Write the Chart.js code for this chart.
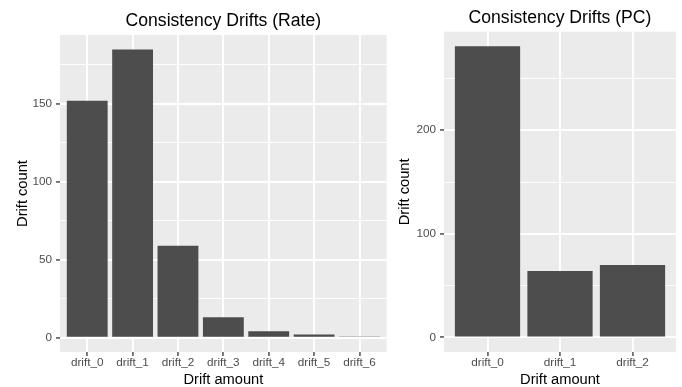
<!DOCTYPE html>
<html>
<head>
<meta charset="utf-8">
<script src="https://cdn.jsdelivr.net/npm/chart.js@4"></script>
<style>
  html, body { margin: 0; padding: 0; background: #ffffff; }
  body { width: 682px; height: 387px; position: relative; overflow: hidden; }
  canvas { position: absolute; top: 0; }
</style>
</head>
<body>
<canvas id="left" width="390" height="387" style="left:0px;width:390px;height:387px"></canvas>
<canvas id="right" width="292" height="387" style="left:390px;width:292px;height:387px"></canvas>
<script>
// ---- data ----
const rateCategories = ['drift_0', 'drift_1', 'drift_2', 'drift_3', 'drift_4', 'drift_5', 'drift_6'];
const rateCounts = [152, 185, 59, 13, 4, 2, 0.3];
const rateMajorTicks = [0, 50, 100, 150];
const rateMinorTicks = [25, 75, 125, 175];

const pcCategories = ['drift_0', 'drift_1', 'drift_2'];
const pcCounts = [281, 64, 70];
const pcMajorTicks = [0, 100, 200];
const pcMinorTicks = [50, 150, 250];

const rateTitle = 'Consistency Drifts (Rate)';
const pcTitle = 'Consistency Drifts (PC)';
const xTitle = 'Drift amount';
const yTitle = 'Drift count';

// ---- style ----
const FONT = "'Liberation Sans', Arial, Helvetica, sans-serif";
const BAR = '#4D4D4D';
const PANEL = '#EBEBEB';
const MAJOR_W = 1.9, MINOR_W = 0.95;

const panelBg = {
  id: 'panelBg',
  beforeDraw(chart) {
    const {ctx, chartArea: a} = chart;
    ctx.save();
    ctx.fillStyle = PANEL;
    ctx.fillRect(a.left, a.top, a.right - a.left, a.bottom - a.top);
    ctx.restore();
  }
};

function makeChart(id, cats, vals, major, minor, title, opt) {
  const maxV = Math.max(...vals);
  const yMin = -0.05 * maxV, yMax = 1.05 * maxV;
  const yTickVals = major.concat(minor).sort((a, b) => a - b);
  return new Chart(document.getElementById(id), {
    type: 'bar',
    data: {
      datasets: [{
        data: vals.map((v, i) => ({x: i, y: v})),
        backgroundColor: BAR,
        borderWidth: 0,
        barPercentage: 0.9,
        categoryPercentage: 1.0
      }]
    },
    plugins: [panelBg],
    options: {
      responsive: false,
      animation: false,
      devicePixelRatio: 1,
      layout: { padding: { left: 0, right: opt.padRight, top: 0, bottom: 0 } },
      plugins: {
        legend: { display: false },
        tooltip: { enabled: false },
        title: {
          display: true,
          text: title,
          fullSize: false,
          color: '#000000',
          font: { family: FONT, size: 17.6, lineHeight: 1, weight: 'normal' },
          padding: { top: opt.titleTop, bottom: opt.titleBottom }
        }
      },
      scales: {
        x: {
          type: 'linear',
          bounds: 'data',
          min: -0.6,
          max: cats.length - 1 + 0.6,
          offset: false,
          afterBuildTicks: s => { s.ticks = cats.map((_, i) => ({value: i})); },
          afterFit: s => { s.height = 35; },
          ticks: {
            autoSkip: false,
            maxRotation: 0,
            minRotation: 0,
            padding: 1,
            color: '#4D4D4D',
            font: { family: FONT, size: 11.73, lineHeight: 1 },
            callback: v => cats[v]
          },
          grid: {
            offset: false,
            color: '#FFFFFF',
            lineWidth: MAJOR_W,
            drawTicks: true,
            tickLength: 4,
            tickColor: '#333333',
            tickWidth: 1.3
          },
          border: { display: false },
          title: {
            display: true,
            text: xTitle,
            color: '#000000',
            font: { family: FONT, size: 14.67, lineHeight: 1 },
            padding: { top: 0, bottom: 0 }
          }
        },
        y: {
          type: 'linear',
          bounds: 'data',
          min: yMin,
          max: yMax,
          afterBuildTicks: s => { s.ticks = yTickVals.map(v => ({value: v})); },
          afterFit: s => { s.width = opt.yWidth; },
          ticks: {
            padding: 4,
            color: '#4D4D4D',
            font: { family: FONT, size: 11.73, lineHeight: 1 },
            callback: v => major.includes(v) ? String(v) : ''
          },
          grid: {
            offset: false,
            color: '#FFFFFF',
            lineWidth: c => (c.tick && major.includes(c.tick.value)) ? MAJOR_W : MINOR_W,
            drawTicks: true,
            tickLength: 4,
            tickColor: c => (c.tick && major.includes(c.tick.value)) ? '#333333' : 'rgba(0,0,0,0)',
            tickWidth: 1.3
          },
          border: { display: false },
          title: {
            display: true,
            text: yTitle,
            color: '#000000',
            font: { family: FONT, size: 14.67, lineHeight: 1 },
            padding: { top: opt.yTitlePad, bottom: 0 }
          }
        }
      }
    }
  });
}

makeChart('left', rateCategories, rateCounts, rateMajorTicks, rateMinorTicks, rateTitle,
  { padRight: 3.3, titleTop: 12.2, titleBottom: 5.2, yWidth: 60, yTitlePad: 15.7 });
makeChart('right', pcCategories, pcCounts, pcMajorTicks, pcMinorTicks, pcTitle,
  { padRight: 6, titleTop: 9.2, titleBottom: 4.9, yWidth: 54, yTitlePad: 7.7 });
</script>
</body>
</html>
